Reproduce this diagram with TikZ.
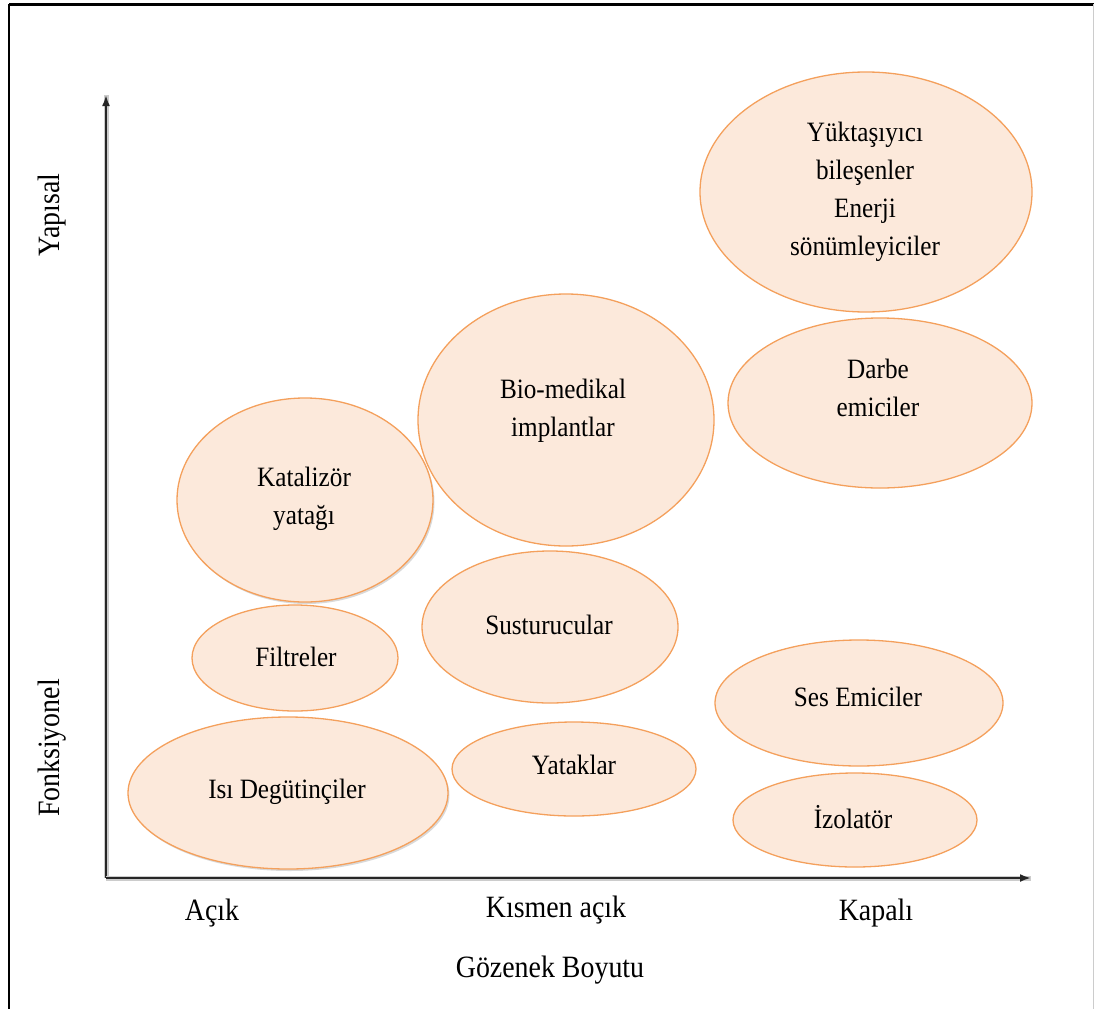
\documentclass[tikz,border=0pt]{standalone}
\usepackage{fontspec}
\setmainfont{Liberation Serif}[FakeStretch=0.9]
\usetikzlibrary{shapes.geometric,arrows.meta,shadows}

\definecolor{bubblefill}{RGB}{252,233,219}
\definecolor{bubbleline}{RGB}{244,160,92}

\tikzset{
    bubble/.style={ellipse, draw=bubbleline, fill=bubblefill, line width=1.3pt, inner sep=0pt},
    bubblesize/.style 2 args={minimum width=#1, minimum height=#2},
    shadowed/.style={drop shadow={opacity=0.3, shadow xshift=1.5pt, shadow yshift=-2pt}},
    bubbletext/.style={align=center, font=\fontsize{28}{38}\selectfont},
    axislabel/.style={font=\fontsize{31}{38}\selectfont},
    axisline/.style={line width=2.2pt, draw=black!85, -{Latex[length=11pt,width=8pt]},
        preaction={draw=black!20, line width=5pt, -}},
}

\begin{document}
\begin{tikzpicture}[
    x=1pt, y=-1pt,
]
    \useasboundingbox (0,0) rectangle (1094,1009);

    % frame
    \draw[line width=3pt] (9,4) -- (1094,4);
    \draw[line width=1.8pt] (9,4) -- (9,1009);
    \draw[black!20, line width=1pt] (1093,4) -- (1093,1009);

    % axes
    \coordinate (origin) at (106,878);
    \coordinate (ytop) at (106,95);
    \coordinate (xend) at (1031,878);
    \draw[axisline] (origin) -- (ytop);
    \draw[axisline] (origin) -- (xend);

    \node[axislabel, rotate=90] (yapisal) at (52,215) {Yapısal};
    \node[axislabel, rotate=90] (fonksiyonel) at (52,748) {Fonksiyonel};
    \node[axislabel] (acik) at (212,913) {Açık};
    \node[axislabel] (kismen) at (556,910) {Kısmen açık};
    \node[axislabel] (kapali) at (876,913) {Kapalı};
    \node[axislabel] (gozenek) at (550,970) {Gözenek Boyutu};

    % open pores
    \node[bubble, shadowed, bubblesize={256pt}{204pt}] (katalizor) at (305,500) {};
    \node[bubbletext] (katalizortext) at (304,499) {Katalizör\\yatağı};

    \node[bubble, bubblesize={206pt}{106pt}] (filtre) at (295,658) {};
    \node[bubbletext] (filtretext) at (296,657) {Filtreler};

    \node[bubble, shadowed, bubblesize={320pt}{152pt}] (isi) at (288,793) {};
    \node[bubbletext] (isitext) at (287,792) {Isı Degütinçiler};

    % partly open pores
    \node[bubble, bubblesize={296pt}{252pt}] (biomedikal) at (566,420) {};
    \node[bubbletext] (biomedikaltext) at (563,411) {Bio-medikal\\implantlar};

    \node[bubble, bubblesize={256pt}{152pt}] (susturucu) at (550,627) {};
    \node[bubbletext] (susturucutext) at (549,625) {Susturucular};

    \node[bubble, bubblesize={244pt}{94pt}] (yatak) at (574,769) {};
    \node[bubbletext] (yataktext) at (574,765) {Yataklar};

    % closed pores
    \node[bubble, bubblesize={332pt}{240pt}] (yuktasiyici) at (866,192) {};
    \node[bubbletext] (yuktasiyicitext) at (865,192) {Yüktaşıyıcı\\bileşenler\\Enerji\\sönümleyiciler};

    \node[bubble, bubblesize={304pt}{170pt}] (darbe) at (880,403) {};
    \node[bubbletext] (darbetext) at (878,388) {Darbe\\emiciler};

    \node[bubble, bubblesize={288pt}{126pt}] (ses) at (859,703) {};
    \node[bubbletext] (sestext) at (858,697) {Ses Emiciler};

    \node[bubble, bubblesize={244pt}{94pt}] (izolator) at (855,820) {};
    \node[bubbletext] (izolatortext) at (853,817) {İzolatör};
\end{tikzpicture}
\end{document}
